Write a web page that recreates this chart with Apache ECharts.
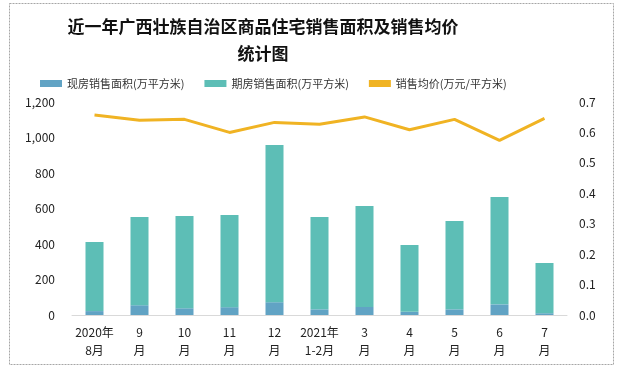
<!DOCTYPE html>
<html><head><meta charset="utf-8">
<script src="https://cdn.jsdelivr.net/npm/echarts@6/dist/echarts.min.js"></script>
<style>html,body{margin:0;padding:0;background:#fff}#c{width:618px;height:368px}</style>
</head><body><div id="c"></div>
<script>
const categories = ['2020年\n8月','9\n月','10\n月','11\n月','12\n月','2021年\n1-2月','3\n月','4\n月','5\n月','6\n月','7\n月'];
const existingArea = [22, 55, 38, 44, 72, 32, 45, 18, 32, 60, 10];
const futuresArea = [389, 497, 520, 519, 886, 520, 569, 376, 498, 605, 283];
const avgPrice = [0.657, 0.640, 0.643, 0.600, 0.633, 0.627, 0.651, 0.609, 0.643, 0.574, 0.646];
const leftTicks = [0, 1200, 200];
const rightTicks = [0, 0.7, 0.1];

const chart = echarts.init(document.getElementById('c'));
const font = '"Noto Sans CJK SC", "Noto Sans", sans-serif';
chart.setOption({
  animation: false,
  graphic: [{type:'rect', shape:{x:9.5,y:3.5,width:604,height:361}, style:{fill:'none', stroke:'#a6a6a6', lineWidth:1, lineDash:[2,1]}, silent:true}],
  title: {
    text: '近一年广西壮族自治区商品住宅销售面积及销售均价\n统计图',
    left: 258, top: 8, textAlign: 'center',
    textStyle: {fontFamily: font, fontWeight: 'bold', fontSize: 17, color: '#111', lineHeight: 27}
  },
  legend: {
    top: 78, left: 40, padding: 0, itemGap: 20, itemWidth: 22, itemHeight: 7,
    textStyle: {fontFamily: font, fontSize: 11, color: '#333'},
    data: [
      {name:'现房销售面积(万平方米)', icon:'rect'},
      {name:'期房销售面积(万平方米)', icon:'rect'},
      {name:'销售均价(万元/平方米)', icon:'rect', itemStyle:{color:'#F0B323'}}
    ]
  },
  grid: {left: 72, right: 51, top: 102, bottom: 53},
  xAxis: {
    type: 'category', data: categories,
    axisLine: {lineStyle: {color: '#d9d9d9'}},
    axisTick: {show: false},
    axisLabel: {color: '#222', fontFamily: font, fontSize: 12, lineHeight: 18, margin: 8, interval: 0}
  },
  yAxis: [
    {type:'value', min: leftTicks[0], max: leftTicks[1], interval: leftTicks[2],
     splitLine:{show:false}, axisLine:{show:false}, axisTick:{show:false},
     axisLabel:{color:'#222', fontFamily: font, fontSize: 12, margin: 17,
       formatter: v => v.toLocaleString('en-US')}},
    {type:'value', min: rightTicks[0], max: rightTicks[1], interval: rightTicks[2],
     splitLine:{show:false}, axisLine:{show:false}, axisTick:{show:false},
     axisLabel:{color:'#222', fontFamily: font, fontSize: 12, margin: 12,
       formatter: v => v.toFixed(1)}}
  ],
  series: [
    {name:'现房销售面积(万平方米)', type:'bar', stack:'a', data: existingArea, barWidth: 18,
     itemStyle:{color:'#61A3C4'}},
    {name:'期房销售面积(万平方米)', type:'bar', stack:'a', data: futuresArea, barWidth: 18,
     itemStyle:{color:'#5DBEB6'}},
    {name:'销售均价(万元/平方米)', type:'line', yAxisIndex: 1, data: avgPrice,
     symbol:'none', lineStyle:{color:'#F0B323', width: 3}, itemStyle:{color:'#F0B323'}}
  ]
});
</script></body></html>
